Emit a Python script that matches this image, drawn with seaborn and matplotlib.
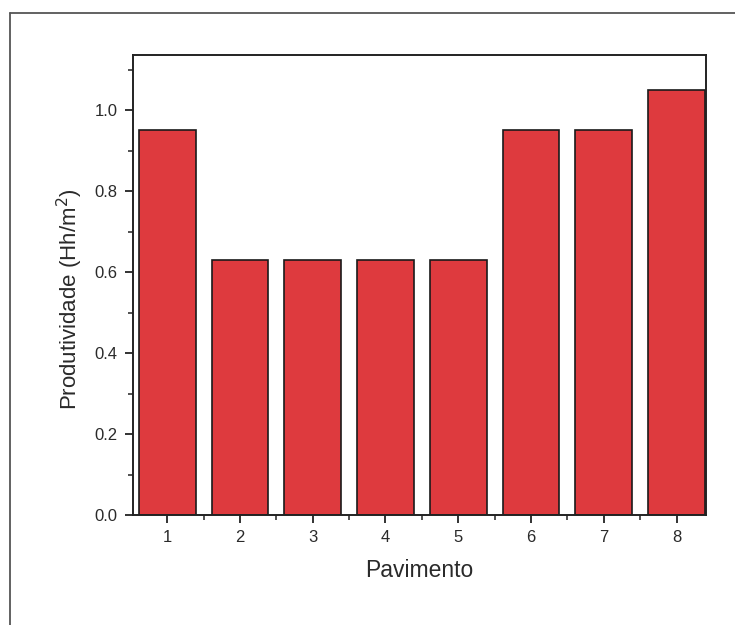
# Import modules.

import numpy as np
import pandas as pd
import matplotlib
matplotlib.use('Agg')
import matplotlib.pyplot as plt
from matplotlib.lines import Line2D
from matplotlib.ticker import MultipleLocator, FixedLocator, FormatStrFormatter
import seaborn as sns

# Chart data.

pavimento = ['1', '2', '3', '4', '5', '6', '7', '8']
produtividade = [0.95, 0.63, 0.63, 0.63, 0.63, 0.95, 0.95, 1.05]

plots_data = pd.DataFrame({'Pavimento': pavimento, 'Produtividade': produtividade})

# Style.

sns.set_style('ticks')
plt.rcParams['font.family'] = ['Liberation Sans', 'DejaVu Sans']

fig = plt.figure(figsize=(7.35, 6.25), dpi=100)
ax = fig.add_axes([0.181, 0.176, 0.780, 0.736])

sns.barplot(x='Pavimento', y='Produtividade', data=plots_data, ax=ax,
            color='#de3a3e', saturation=1, width=0.78,
            edgecolor='#1a1a1a', linewidth=1.2)

ax.set_xlim(-0.47, 7.41)
ax.set_ylim(0, 1.136)
ax.yaxis.set_major_locator(MultipleLocator(0.2))
ax.yaxis.set_minor_locator(MultipleLocator(0.1))
ax.xaxis.set_minor_locator(FixedLocator(np.arange(0.5, 7, 1.0)))
ax.yaxis.set_major_formatter(FormatStrFormatter('%.1f'))

ax.tick_params(axis='both', which='major', direction='out', length=6, width=1.3,
               labelsize=12, color='#222222', labelcolor='#2a2a2a', pad=5)
ax.tick_params(axis='both', which='minor', direction='out', length=3.5, width=1.1,
               color='#222222')

for s in ax.spines.values():
    s.set_visible(True)
    s.set_linewidth(1.4)
    s.set_color('#222222')

ax.set_xlabel('Pavimento', fontsize=16.5, color='#2a2a2a', labelpad=10)
ax.set_ylabel('Produtividade (Hh/m$^2$)', fontsize=16, color='#2a2a2a')
ax.yaxis.set_label_coords(-0.083, 0.47)

# Outer frame of the page.

fig.add_artist(Line2D([10 / 735, 10 / 735], [0, 1 - 13 / 625], transform=fig.transFigure,
                      color='#555555', linewidth=1.3))
fig.add_artist(Line2D([10 / 735, 1], [1 - 13 / 625, 1 - 13 / 625], transform=fig.transFigure,
                      color='#555555', linewidth=1.3))

fig.savefig('out.png', dpi=100)
